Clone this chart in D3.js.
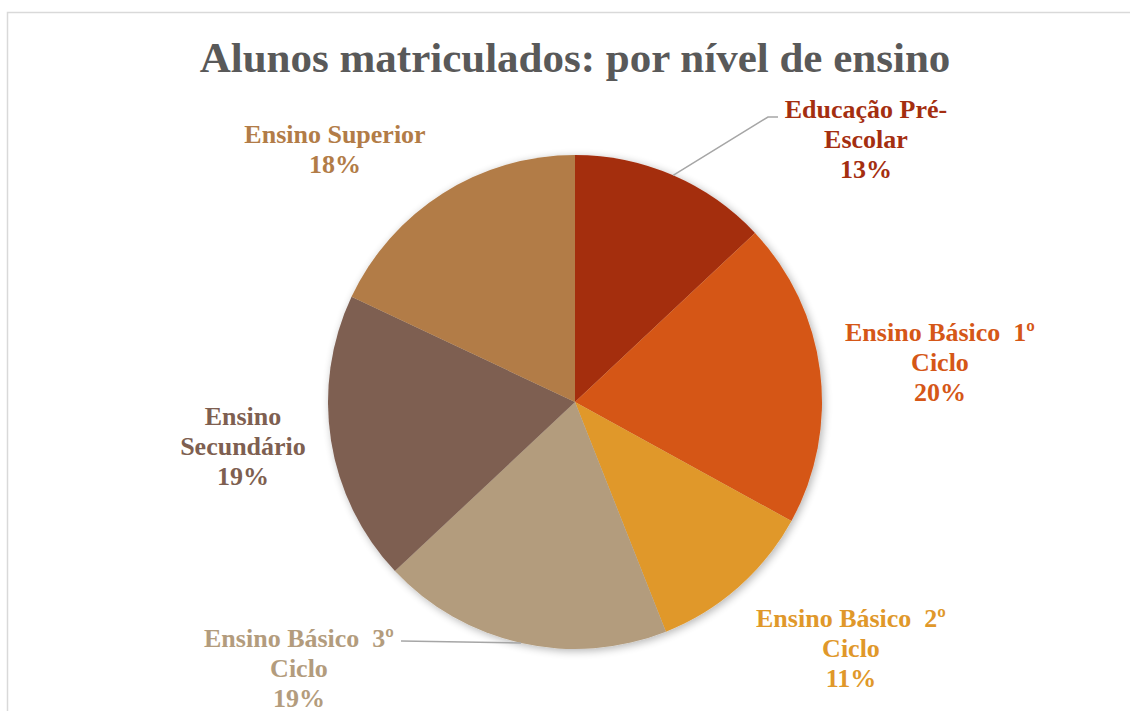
<!DOCTYPE html>
<html>
<head>
<meta charset="utf-8">
<script src="https://cdn.jsdelivr.net/npm/d3@7"></script>
<style>
  body { margin: 0; background: #fff; }
  svg { display: block; }
  text { font-family: "Liberation Serif", "Times New Roman", serif; font-weight: bold; white-space: pre; }
</style>
</head>
<body>
<div id="chart"></div>
<script>
// chart data
var categories = ['Educação Pré-Escolar', 'Ensino Básico  1º Ciclo', 'Ensino Básico  2º Ciclo',
    'Ensino Básico  3º Ciclo', 'Ensino Secundário', 'Ensino Superior']
var percents = [13, 20, 11, 19, 19, 18]
var labelLines = [
    ['Educação Pré-', 'Escolar'],
    ['Ensino Básico  1º', 'Ciclo'],
    ['Ensino Básico  2º', 'Ciclo'],
    ['Ensino Básico  3º', 'Ciclo'],
    ['Ensino', 'Secundário'],
    ['Ensino Superior']
]
var colors = ['#A42E10', '#D55717', '#E0982A', '#B39C7D', '#7E5F51', '#B27C47']

var width = 1130, height = 711
var cx = 575, cy = 402, radius = 247

// label placement (center x, first baseline) and leader line elbows
var labelPos = [[866, 118], [940, 341], [851, 627], [299, 647], [243, 425], [335, 143]]
var leaders = { 0: [[768, 117], [778, 117]], 3: [[401, 641]] }

var svg = d3.select('#chart').append('svg')
    .attr('width', width)
    .attr('height', height)

var defs = svg.append('defs')
var shadow = defs.append('filter').attr('id', 'shadow')
    .attr('x', '-10%').attr('y', '-10%').attr('width', '120%').attr('height', '120%')
shadow.append('feGaussianBlur').attr('in', 'SourceAlpha').attr('stdDeviation', 4)
shadow.append('feOffset').attr('dx', 2).attr('dy', 2).attr('result', 'b')
shadow.append('feComponentTransfer').append('feFuncA').attr('type', 'linear').attr('slope', 0.3)
var merge = shadow.append('feMerge')
merge.append('feMergeNode')
merge.append('feMergeNode').attr('in', 'SourceGraphic')

// chart border
svg.append('rect')
    .attr('x', 7.5).attr('y', 12.5)
    .attr('width', width + 20).attr('height', height + 20)
    .attr('fill', 'none')
    .attr('stroke', '#d9d9d9')
    .attr('stroke-width', 1.5)

svg.append('text')
    .attr('x', cx)
    .attr('y', 72)
    .attr('text-anchor', 'middle')
    .attr('font-size', 43)
    .attr('fill', '#595959')
    .text('Alunos matriculados: por nível de ensino')

var data = categories.map((c, i) => ({ name: c, value: percents[i], i: i }))

var pie = d3.pie().value(d => d.value).sort(null)
var arcs = pie(data)
var arc = d3.arc().innerRadius(0).outerRadius(radius)

var g = svg.append('g').attr('transform', 'translate(' + cx + ',' + cy + ')')

g.append('g').attr('filter', 'url(#shadow)')
    .selectAll('path')
    .data(arcs)
    .join('path')
    .attr('d', arc)
    .attr('fill', d => colors[d.data.i])

// leader lines
arcs.forEach(d => {
    var elbow = leaders[d.data.i]
    if (!elbow) return
    var mid = (d.startAngle + d.endAngle) / 2
    var pts = [[cx + radius * Math.sin(mid), cy - radius * Math.cos(mid)]].concat(elbow)
    svg.append('path')
        .attr('d', d3.line()(pts))
        .attr('fill', 'none')
        .attr('stroke', '#a6a6a6')
        .attr('stroke-width', 1.5)
})

var labels = svg.selectAll('text.lbl')
    .data(arcs)
    .join('text')
    .attr('class', 'lbl')
    .attr('text-anchor', 'middle')
    .attr('font-size', 26)
    .attr('fill', d => colors[d.data.i])

labels.selectAll('tspan')
    .data(d => labelLines[d.data.i].concat(d.data.value + '%').map(t => ({ t: t, i: d.data.i })))
    .join('tspan')
    .attr('x', d => labelPos[d.i][0])
    .attr('y', (d, k) => labelPos[d.i][1] + k * 30)
    .text(d => d.t)
</script>
</body>
</html>
